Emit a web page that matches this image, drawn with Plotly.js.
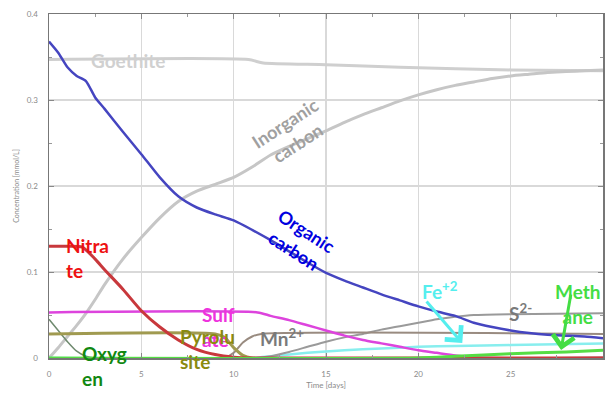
<!DOCTYPE html>
<html>
<head>
<meta charset="utf-8">
<script src="https://cdn.plot.ly/plotly-3.0.1.min.js"></script>
<style>html,body{margin:0;padding:0;background:#fff;}#chart{width:605px;height:394px;}</style>
</head>
<body>
<div id="chart"></div>
<script>
// Time (days) and concentrations (mmol/L)
var goethiteT = [0, 10.8, 11.6, 15, 19, 25, 30];
var goethiteV = [0.347, 0.347, 0.343, 0.341, 0.338, 0.335, 0.334];

var inorgT = [0, 0.5, 1, 1.5, 2, 2.5, 3, 4, 5, 6, 7, 8, 9, 10, 11, 12, 13, 14, 15, 16, 17, 18, 19, 20, 21, 22, 23, 24, 25, 26, 27, 28, 29, 30];
var inorgV = [0.0, 0.012, 0.025, 0.038, 0.052, 0.068, 0.085, 0.115, 0.14, 0.163, 0.182, 0.194, 0.202, 0.21, 0.222, 0.236, 0.246, 0.255, 0.264, 0.274, 0.283, 0.291, 0.299, 0.306, 0.312, 0.317, 0.321, 0.325, 0.328, 0.330, 0.332, 0.333, 0.334, 0.335];

var orgT = [0, 0.5, 1, 1.5, 2, 2.5, 3, 4, 5, 6, 7, 8, 9, 10, 11, 12, 13, 14, 15, 16, 17, 18, 19, 20, 21, 22, 23, 24, 25, 26, 27, 28, 29, 30];
var orgV = [0.368, 0.355, 0.338, 0.328, 0.322, 0.303, 0.290, 0.263, 0.237, 0.210, 0.188, 0.175, 0.167, 0.160, 0.149, 0.137, 0.124, 0.111, 0.099, 0.090, 0.082, 0.074, 0.067, 0.060, 0.054, 0.049, 0.041, 0.036, 0.032, 0.029, 0.027, 0.026, 0.025, 0.023];

var nitrateT = [0, 1, 1.8, 2.5, 3, 4, 5, 6, 7, 8, 9, 10, 11, 30];
var nitrateV = [0.13, 0.13, 0.129, 0.115, 0.103, 0.08, 0.055, 0.036, 0.021, 0.01, 0.004, 0.001, 0, 0];

var sulfateT = [0, 11.3, 12, 13, 14, 15, 16, 17, 18, 19, 20, 21, 22, 23, 24, 30];
var sulfateV = [0.053, 0.053, 0.049, 0.044, 0.038, 0.032, 0.026, 0.021, 0.017, 0.013, 0.009, 0.006, 0.003, 0.001, 0, 0];

var pyroT = [0, 9, 9.5, 10, 10.5, 11, 30];
var pyroV = [0.028, 0.028, 0.024, 0.012, 0.003, 0, 0];

var mnT = [0, 9.5, 10, 10.5, 11, 11.5, 30];
var mnV = [0, 0, 0.006, 0.018, 0.025, 0.028, 0.028];

var sulfideT = [0, 11, 12, 13, 14, 15, 16, 17, 18, 19, 20, 21, 22, 23, 25, 30];
var sulfideV = [0, 0, 0.002, 0.007, 0.013, 0.019, 0.024, 0.028, 0.033, 0.037, 0.041, 0.045, 0.048, 0.050, 0.051, 0.052];

var feT = [0, 11, 12, 14, 16, 18, 20, 22, 25, 30];
var feV = [0, 0, 0.002, 0.006, 0.009, 0.011, 0.013, 0.014, 0.015, 0.017];

var methaneT = [0, 20, 22, 25, 28, 30];
var methaneV = [0, 0, 0.002, 0.005, 0.007, 0.009];

var oxygenT = [0, 0.5, 1, 1.5, 2, 2.5, 30];
var oxygenV = [0.045, 0.032, 0.019, 0.008, 0.002, 0, 0];

var xTicks = [0, 5, 10, 15, 20, 25, 30];
var yTicks = [0, 0.1, 0.2, 0.3, 0.4];

function line(x, y, color, width) {
  return {x: x, y: y, type: 'scatter', mode: 'lines', line: {color: color, width: width, shape: 'spline', smoothing: 0.6}, hoverinfo: 'skip', showlegend: false};
}

var traces = [
  line(goethiteT, goethiteV, '#cfcfcf', 3),
  line(inorgT, inorgV, '#c6c6c6', 3),
  line(oxygenT, oxygenV, '#6f8a6f', 1.5),
  line(feT, feV, '#88eeee', 2.5),
  line(sulfideT, sulfideV, '#9a9a9a', 2),
  line(mnT, mnV, '#998b80', 2),
  line(pyroT, pyroV, '#a09a50', 3),
  line(sulfateT, sulfateV, '#dd44dd', 2.5),
  line(nitrateT, nitrateV, '#c8383c', 3),
  line(methaneT, methaneV, '#55dd44', 3),
  line(orgT, orgV, '#4545c0', 2.5)
];

var F = 'Lato, "Liberation Sans", Arial, sans-serif';
var FS = 19;
function lab(text, x, y, color, opts) {
  var a = {text: text, x: x, y: y, xref: 'x', yref: 'y', showarrow: false,
    font: {family: F, size: FS, color: color}, xanchor: 'left', yanchor: 'middle', align: 'left'};
  for (var k in (opts || {})) a[k] = opts[k];
  return a;
}

var annotations = [
  lab('<b>Goethite</b>', 4.27, 0.3465, '#d0d0d0', {xanchor: 'center', align: 'center'}),
  lab('<b>Inorganic<br>carbon</b>', 13.15, 0.262, '#a0a0a0', {xanchor: 'center', align: 'center', textangle: -33, font: {family: F, size: 18, color: '#a0a0a0'}}),
  lab('<b>Organic<br>carbon</b>', 13.6, 0.137, '#0000e0', {xanchor: 'center', align: 'center', textangle: 33, font: {family: F, size: 18, color: '#0000e0'}}),
  lab('<b>Nitra<br>te</b>', 0.81, 0.116, '#ee1111'),
  lab('<b>Sulf<br>ate</b>', 8.16, 0.036, '#ee33dd'),
  lab('<b>Pyrolu<br>site</b>', 7.0, 0.0099, '#8a8a10'),
  lab('<b>Mn<sup>2+</sup></b>', 11.3, 0.024, '#7a7a7a'),
  lab('<b>Oxyg<br>en</b>', 1.7, 0, '#118811', {yshift: -8}),
  lab('<b>Fe<sup>+2</sup></b>', 20.1, 0.078, '#55eeee'),
  lab('<b>S<sup>2-</sup></b>', 24.8, 0.053, '#7a7a7a'),
  lab('<b>Meth<br>ane</b>', 28.65, 0.063, '#44dd44', {xanchor: 'center', align: 'center'}),
  {x: 22.38, y: 0.0174, xref: 'x', yref: 'y', text: '', showarrow: true, ax: -37, ay: -43, arrowcolor: '#55eeee', arrowwidth: 3, arrowhead: 4, arrowsize: 1.4},
  {x: 27.73, y: 0.0093, xref: 'x', yref: 'y', text: '', showarrow: true, ax: 10, ay: -57, arrowcolor: '#44dd44', arrowwidth: 3, arrowhead: 4, arrowsize: 1.4}
];

var layout = {
  width: 605, height: 394,
  margin: {l: 49, r: 2, t: 14, b: 36},
  paper_bgcolor: '#ffffff', plot_bgcolor: '#ffffff',
  xaxis: {
    range: [0, 30], tickvals: xTicks, ticks: 'inside', ticklen: 5, tickcolor: '#888',
    showgrid: true, gridcolor: '#d9d9d9', gridwidth: 1.5, zeroline: false,
    showline: true, mirror: 'ticks', linecolor: '#777', linewidth: 1.5,
    tickfont: {family: F, size: 8, color: '#8a8a8a'}, ticklabelstandoff: 8,
    minor: {dtick: 2.5, ticks: 'inside', ticklen: 3, tickcolor: '#999', showgrid: false},
    title: {text: 'Time [days]', font: {family: F, size: 8, color: '#8a8a8a'}, standoff: 4}
  },
  yaxis: {
    range: [0, 0.4], tickvals: yTicks, ticks: 'inside', ticklen: 5, tickcolor: '#888',
    showgrid: true, gridcolor: '#d9d9d9', gridwidth: 1.5, zeroline: false,
    showline: true, mirror: 'ticks', linecolor: '#777', linewidth: 1.5,
    tickfont: {family: F, size: 8, color: '#8a8a8a'}, ticklabelstandoff: 8,
    minor: {dtick: 0.05, ticks: 'inside', ticklen: 3, tickcolor: '#999', showgrid: false},
    title: {text: 'Concentration [mmol/L]', font: {family: F, size: 7, color: '#8a8a8a'}, standoff: 6}
  },
  annotations: annotations,
  showlegend: false
};

Plotly.newPlot('chart', traces, layout, {displayModeBar: false, staticPlot: true});
</script>
</body>
</html>
